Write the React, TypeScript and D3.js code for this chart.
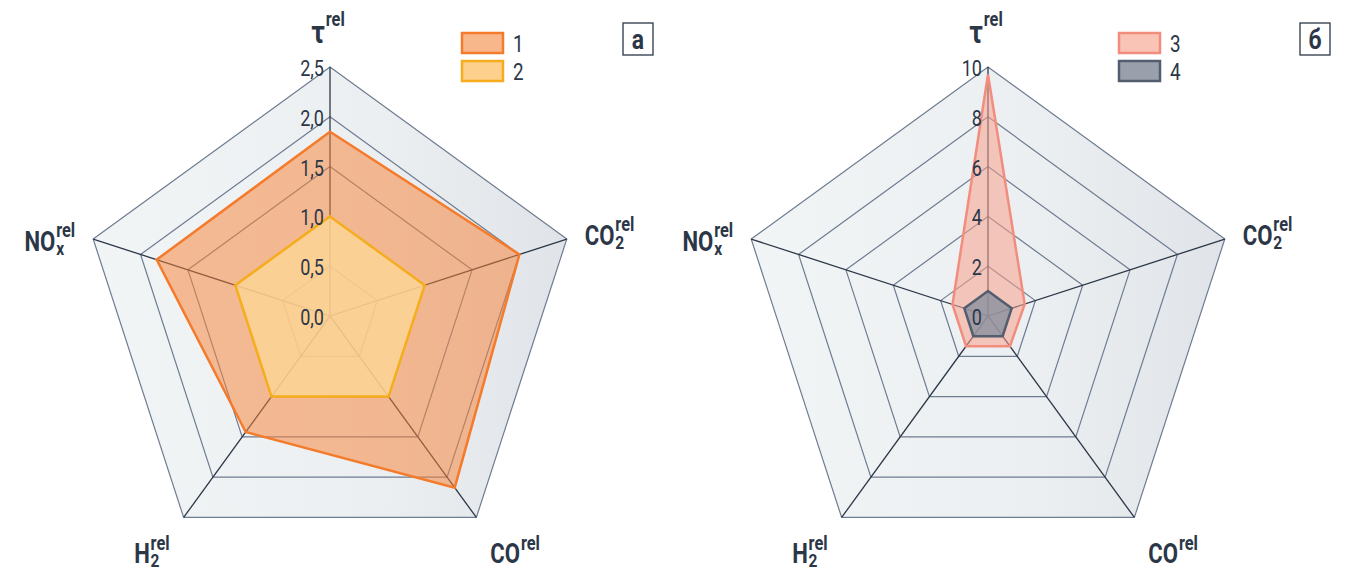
import React, { useEffect, useRef } from "react";
import * as d3 from "d3";

const axisNames = ["τ", "CO", "CO", "H", "NO"];
const axisSubs = ["", "2", "", "2", "x"];
const axisSup = "rel";

const ticksA = [0, 0.5, 1, 1.5, 2, 2.5];
const tickLabelsA = ["0,0", "0,5", "1,0", "1,5", "2,0", "2,5"];
const series1 = [1.85, 2.0, 2.13, 1.44, 1.83];
const series2 = [1.0, 1.0, 1.0, 1.0, 1.0];

const ticksB = [0, 2, 4, 6, 8, 10];
const tickLabelsB = ["0", "2", "4", "6", "8", "10"];
const series3 = [9.7, 1.55, 1.5, 1.5, 1.5];
const series4 = [1.0, 1.0, 1.0, 1.0, 1.0];

const legendA = ["1", "2"];
const legendB = ["3", "4"];
const panelLetters = ["а", "б"];

const INK = "#2b3747";
const RING = "#6e7c91";
const FONT = "Roboto, 'Noto Sans', sans-serif";
const SX = 0.82;

type Style = { stroke: string; fill: string; op: number; legFill: string };
const styles: Style[] = [
  { stroke: "#f47b2b", fill: "#f7843a", op: 0.52, legFill: "#f8b78a" },
  { stroke: "#f6ad1d", fill: "#fdd696", op: 0.82, legFill: "#fdd08c" },
  { stroke: "#f28d7e", fill: "#f7a08d", op: 0.55, legFill: "#f9c3b6" },
  { stroke: "#525d6e", fill: "#8a91a0", op: 0.8, legFill: "#9aa0ab" },
];

export default function App() {
  const ref = useRef<SVGSVGElement>(null);

  useEffect(() => {
    const svg = d3.select(ref.current);
    svg.selectAll("*").remove();
    const defs = svg.append("defs");

    const addText = (
      parent: any,
      x: number,
      y: number,
      str: string,
      size: number,
      bold: boolean,
      anchor: string
    ) => {
      const tg = parent.append("g").attr("transform", `translate(${x},${y}) scale(${SX},1)`);
      tg.append("text")
        .attr("x", 0)
        .attr("y", 0)
        .attr("dy", "0.36em")
        .attr("text-anchor", anchor)
        .attr("font-family", FONT)
        .attr("font-weight", bold ? "bold" : "normal")
        .attr("font-size", size)
        .attr("fill", INK)
        .text(str);
      return tg;
    };

    const drawPanel = (
      idx: number,
      cx: number,
      cy: number,
      R: number,
      ticks: number[],
      tickLabels: string[],
      data: number[][],
      sty: Style[],
      legend: string[],
      legX: number,
      legY: number,
      letterX: number,
      letterY: number
    ) => {
      const g = svg.append("g");
      const maxV = ticks[ticks.length - 1];
      const r = d3.scaleLinear().domain([0, maxV]).range([0, R]);
      const n = axisNames.length;
      const ang = (i: number) => (-90 + (360 / n) * i) * (Math.PI / 180);
      const pt = (i: number, v: number): [number, number] => [
        cx + r(v) * Math.cos(ang(i)),
        cy + r(v) * Math.sin(ang(i)),
      ];
      const line = d3.line().curve(d3.curveLinearClosed);

      const gid = "bg" + idx;
      const grad = defs
        .append("linearGradient")
        .attr("id", gid)
        .attr("gradientUnits", "userSpaceOnUse")
        .attr("x1", cx - R)
        .attr("x2", cx + R)
        .attr("y1", 0)
        .attr("y2", 0);
      grad.append("stop").attr("offset", 0).attr("stop-color", "#f2f5f6");
      grad.append("stop").attr("offset", 0.6).attr("stop-color", "#eceff1");
      grad.append("stop").attr("offset", 1).attr("stop-color", "#dfe3e8");

      g.append("path")
        .attr("d", line(d3.range(n).map((i) => pt(i, maxV))))
        .attr("fill", `url(#${gid})`);

      ticks.slice(1).forEach((t) => {
        g.append("path")
          .attr("d", line(d3.range(n).map((i) => pt(i, t))))
          .attr("fill", "none")
          .attr("stroke", RING)
          .attr("stroke-width", 1.2);
      });
      d3.range(n).forEach((i) => {
        const [x, y] = pt(i, maxV);
        g.append("line")
          .attr("x1", cx)
          .attr("y1", cy)
          .attr("x2", x)
          .attr("y2", y)
          .attr("stroke", INK)
          .attr("stroke-width", 1.3);
      });

      data.forEach((vals, k) => {
        g.append("path")
          .attr("d", line(vals.map((v, i) => pt(i, v))))
          .attr("fill", sty[k].fill)
          .attr("fill-opacity", sty[k].op)
          .attr("stroke", sty[k].stroke)
          .attr("stroke-width", 2.5)
          .attr("stroke-linejoin", "miter");
      });

      ticks.forEach((t, j) => {
        const [, y] = pt(0, t);
        addText(g, cx - 6, y + 1, tickLabels[j], 22, false, "end");
      });

      // axis labels
      const place = [
        { dx: -2, dy: -36, anchor: "middle" },
        { dx: 18, dy: -4, anchor: "start" },
        { dx: 14, dy: 36, anchor: "start" },
        { dx: -14, dy: 36, anchor: "end" },
        { dx: -18, dy: 2, anchor: "end" },
      ];
      d3.range(n).forEach((i) => {
        const [vx, vy] = pt(i, maxV);
        const p = place[i];
        const lg = g.append("g");
        const mk = (str: string, x: number, y: number, size: number) =>
          lg
            .append("text")
            .attr("x", x)
            .attr("y", y)
            .attr("dy", "0.36em")
            .attr("font-family", FONT)
            .attr("font-weight", "bold")
            .attr("font-size", size)
            .attr("fill", INK)
            .text(str);
        const main = mk(axisNames[i], 0, 0, i === 0 ? 32 : 27);
        const w = (main.node() as SVGTextElement).getComputedTextLength();
        const sup = mk(axisSup, w + 1, i === 0 ? -12 : -11, 20);
        const sw = (sup.node() as SVGTextElement).getComputedTextLength();
        if (axisSubs[i]) mk(axisSubs[i], w + 1, 7, 19);
        const total = (w + 1 + sw) * SX;
        let x0 = vx + p.dx;
        if (p.anchor === "middle") x0 = vx + p.dx - total / 2;
        if (p.anchor === "end") x0 = vx + p.dx - total;
        lg.attr("transform", `translate(${x0},${vy + p.dy}) scale(${SX},1)`);
      });

      // legend
      legend.forEach((lab, k) => {
        const y = legY + k * 28;
        g.append("rect")
          .attr("x", legX)
          .attr("y", y)
          .attr("width", 41)
          .attr("height", 20)
          .attr("fill", sty[k].legFill)
          .attr("stroke", sty[k].stroke)
          .attr("stroke-width", 2.5);
        addText(g, legX + 51, y + 11, lab, 23, false, "start");
      });

      g.append("rect")
        .attr("x", letterX)
        .attr("y", letterY)
        .attr("width", 30)
        .attr("height", 32)
        .attr("fill", "#fff")
        .attr("stroke", INK)
        .attr("stroke-width", 1.3);
      addText(g, letterX + 15, letterY + 16, panelLetters[idx], 28, true, "middle");
    };

    drawPanel(0, 330, 316, 249, ticksA, tickLabelsA, [series1, series2], [styles[0], styles[1]], legendA, 462, 33, 623, 23);
    drawPanel(1, 988, 316, 249, ticksB, tickLabelsB, [series3, series4], [styles[2], styles[3]], legendB, 1119, 33, 1300, 23);
  }, []);

  return (
    <svg
      ref={ref}
      width={1361}
      height={569}
      style={{ position: "absolute", left: 0, top: 0, background: "#fff" }}
    />
  );
}
